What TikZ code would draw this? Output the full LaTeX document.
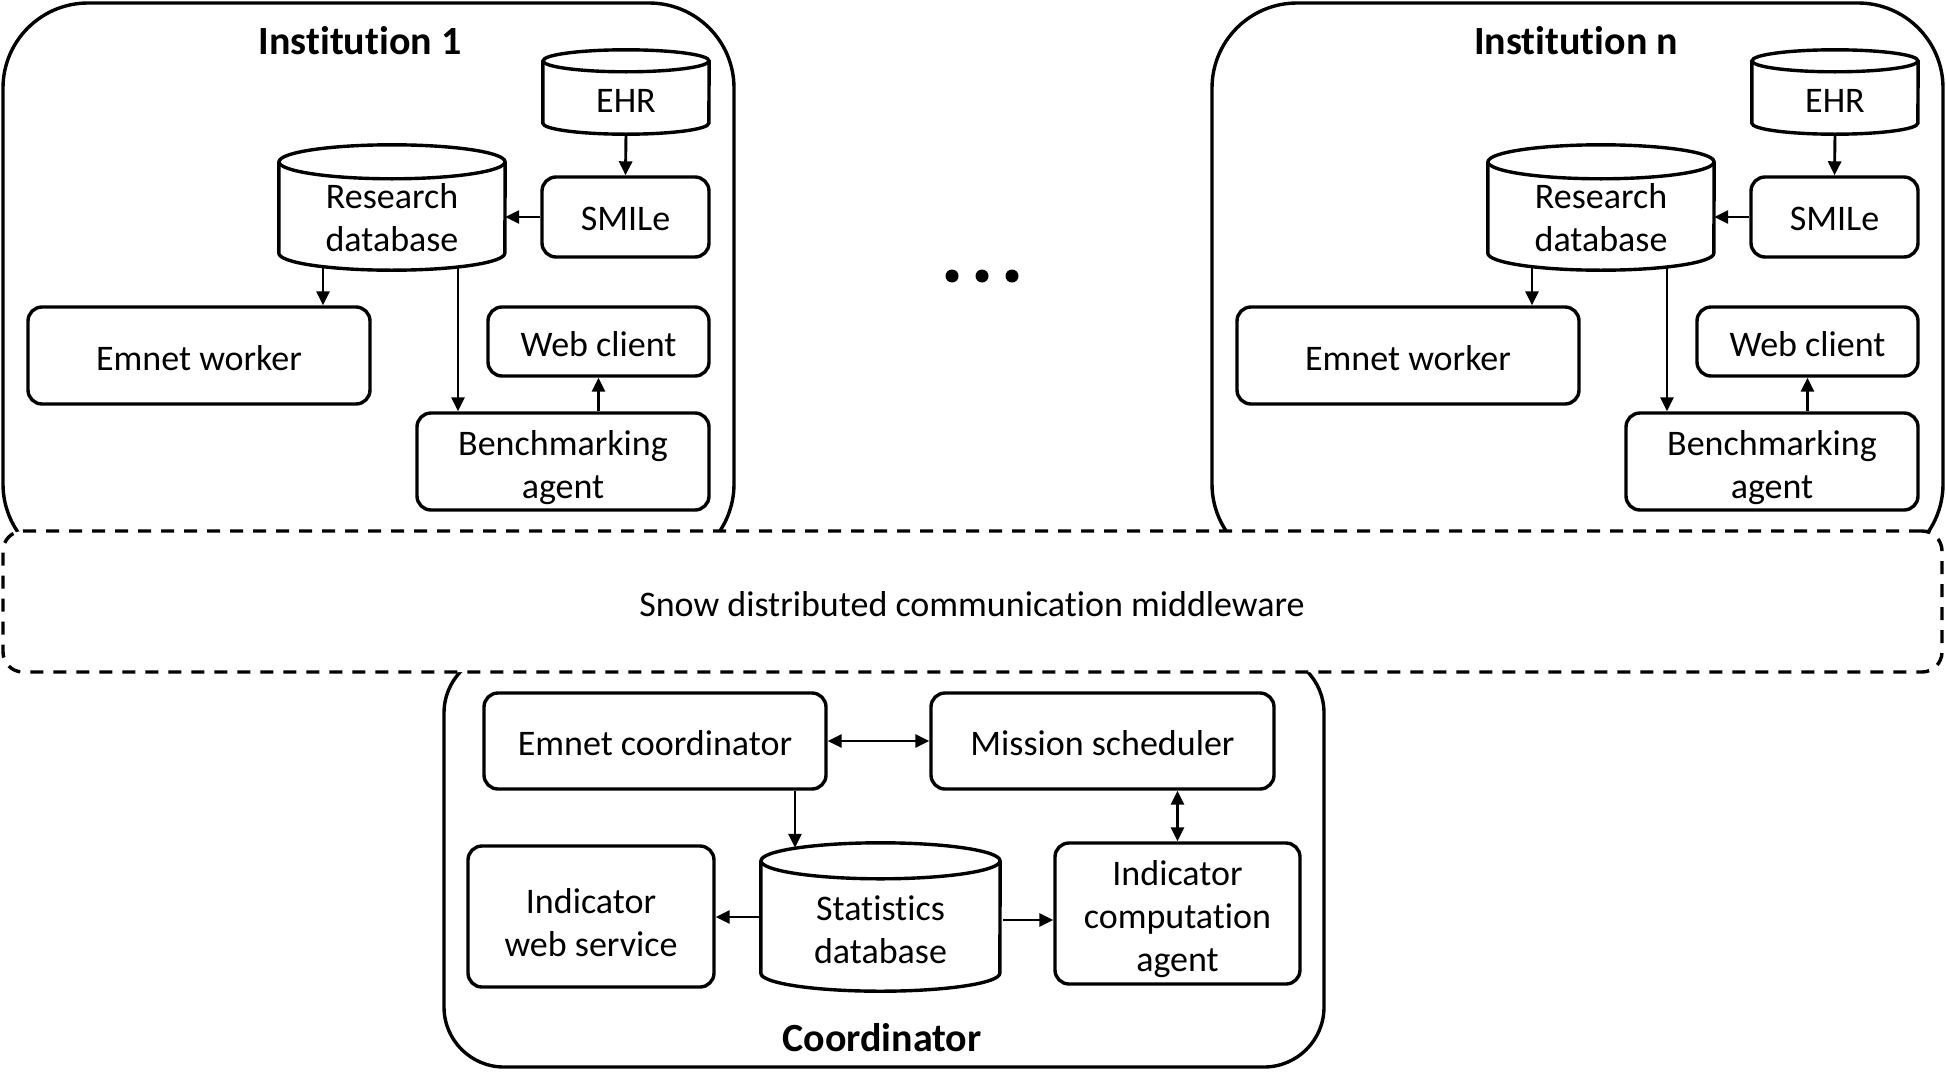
\documentclass[tikz,border=0pt]{standalone}
\usepackage{fontspec}
\setmainfont{Carlito}[Ligatures={NoCommon,NoContextual,NoRare}]
\usetikzlibrary{arrows.meta}
\newcommand\bodyfont{\fontsize{36}{43}\selectfont}
\newcommand\titlefont{\fontsize{40}{48}\selectfont\bfseries}
\newcommand\nl{\kern0pt }
\tikzset{
  box/.style={draw, line width=3.4pt, rounded corners=14pt, inner sep=0pt, align=center, font=\bodyfont},
  txt/.style={font=\bodyfont, align=center, inner sep=0pt},
  ttl/.style={font=\titlefont, inner sep=0pt},
  tip/.tip={Triangle[length=14pt,width=13pt]},
  arr/.style={line width=2.9pt, -tip},
  darr/.style={line width=2.9pt, tip-tip},
  group/.style={draw, line width=3.4pt, inner sep=0pt},
  mware/.style={draw, fill=white, line width=3.4pt, rounded corners=20pt, dash pattern=on 13pt off 10pt, inner sep=0pt, font=\bodyfont},
  cylline/.style={line width=3.4pt},
}
% #1 text shift down, #2 name, #3 x1, #4 y1, #5 x2, #6 y2, #7 text
\newcommand\boxnode[7][2]{%
  \node[box, minimum width={(#5-#3)*1pt}, minimum height={(#6-#4)*1pt}] (#2) at ({(#3+#5)/2},{(#4+#6)/2}) {};
  \node[txt] (#2txt) at ({(#3+#5)/2},{(#4+#6)/2+#1}) {#7};}
\newcommand\dbnode[8]{%
  \node[minimum width={(#4-#2)*1pt}, minimum height={(#5-#3)*1pt}, inner sep=0pt] (#1) at ({(#2+#4)/2},{(#3+#5)/2}) {};
  \draw[cylline] ([yshift=-#6pt]#1.north west) -- ([yshift=#6pt]#1.south west)
     arc[start angle=180, end angle=360, x radius={(#4-#2)/2*1pt}, y radius=#6pt]
     -- ([yshift=-#6pt]#1.north east);
  \draw[cylline] ([yshift=-#6pt]#1.north) ellipse[x radius={(#4-#2)/2*1pt}, y radius=#6pt];
  \node[txt] (#1txt) at ({(#2+#4)/2},#7) {#8};}
\newcommand\institution[3]{%
  \node[group, rounded corners=85pt, minimum width=731pt, minimum height=566pt] (#1box) at (368.5,286) {};
  \node[ttl] (#1title) at (#3,41) {#2};
  \dbnode{#1ehr}{543}{50}{709}{134}{11}{101}{EHR}
  \dbnode{#1rdb}{279}{145}{505}{270}{17}{218}{Research\\database}
  \boxnode{#1smile}{542}{177}{709}{257}{SMILe}
  \boxnode[3]{#1worker}{28}{307}{370}{404}{Emnet worker}
  \boxnode[3]{#1web}{488}{307}{709}{376}{Web client}
  \boxnode[6]{#1bench}{417}{413}{709}{510}{Benchmarking\\agent}
  \draw[arr] (#1ehr.south) -- (#1smile.north);
  \draw[arr] (#1smile.west) -- (#1smile.west -| #1rdb.east);
  \draw[arr] ([xshift=-69pt,yshift=4pt]#1rdb.south) -- ([xshift=-69pt]#1rdb.south |- #1worker.north);
  \draw[arr] ([xshift=66pt,yshift=3pt]#1rdb.south) -- ([xshift=66pt]#1rdb.south |- #1bench.north);
  \draw[arr] (#1web.south |- #1bench.north) -- (#1web.south);
}
\begin{document}
\begin{tikzpicture}[x=1pt, y=-1pt]
\useasboundingbox (0,0) rectangle (1946,1071);
% Institution 1
\institution{a}{Inst\nl itut\nl ion 1}{360}
% Institution n
\begin{scope}[xshift=1209pt]
\institution{b}{Inst\nl itut\nl ion n}{367}
\end{scope}
% dots
\fill (952,276) circle[radius=6.5pt];
\fill (982,276) circle[radius=6.5pt];
\fill (1012,276) circle[radius=6.5pt];
% Coordinator
\node[group, rounded corners=60pt, minimum width=880pt, minimum height=414pt] (coordbox) at (884,860) {};
\node[ttl] (coordtitle) at (882,1038) {Coordinator};
% Middleware
\node[mware, minimum width=1939pt, minimum height=141pt] (mw) at (972.5,601.5) {};
\node[txt] (mwtxt) at (972,604) {Snow distributed communicat\nl ion middleware};
% Coordinator content
\boxnode{ec}{484}{693}{826}{789}{Emnet coordinator}
\boxnode{ms}{931}{693}{1274}{789}{Mission scheduler}
\boxnode[6]{iws}{468}{846}{714}{987}{Indicator\\web service}
\dbnode{sdb}{761}{843}{1000}{991}{18}{930}{Stat\nl ist\nl ics\\database}
\boxnode[6]{ica}{1055}{843}{1300}{984}{Indicator\\computat\nl ion\\agent}
\draw[darr] (ec.east) -- (ms.west);
\draw[arr] ([xshift=140pt]ec.south) -- ([xshift=-85.5pt,yshift=-5pt]sdb.north);
\draw[darr] (ms.south -| ica.north) -- (ica.north);
\draw[arr] (sdb.west) -- (sdb.west -| iws.east);
\draw[arr] ([xshift=3pt,yshift=-3pt]sdb.east) -- ([yshift=-3pt]sdb.east -| ica.west);
\end{tikzpicture}
\end{document}
